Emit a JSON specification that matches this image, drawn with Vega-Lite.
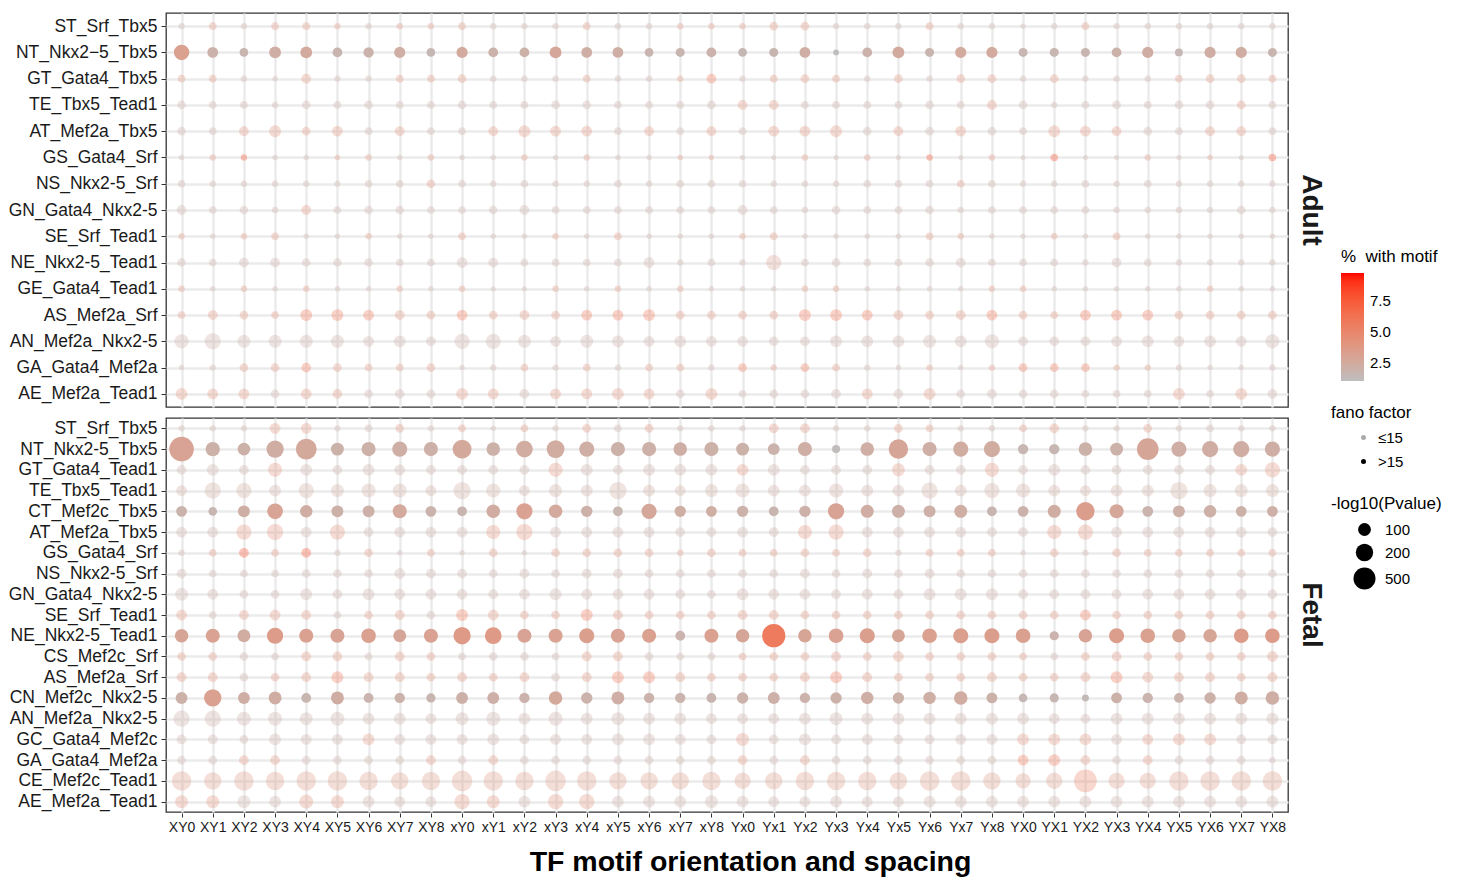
{
"$schema": "https://vega.github.io/schema/vega-lite/v6.json",
"background": "white",
"padding": {"left": 5, "top": 12, "right": 5, "bottom": 2},
"data": {"values": [
{"g":"A","r":0,"x":0,"c":2,"s":54,"f":0},{"g":"A","r":0,"x":1,"c":4,"s":59,"f":0},{"g":"A","r":0,"x":2,"c":2,"s":54,"f":0},{"g":"A","r":0,"x":3,"c":4,"s":59,"f":0},{"g":"A","r":0,"x":4,"c":4,"s":59,"f":0},{"g":"A","r":0,"x":5,"c":4,"s":54,"f":0},{"g":"A","r":0,"x":6,"c":2,"s":54,"f":0},{"g":"A","r":0,"x":7,"c":4,"s":54,"f":0},{"g":"A","r":0,"x":8,"c":4,"s":54,"f":0},{"g":"A","r":0,"x":9,"c":4,"s":59,"f":0},{"g":"A","r":0,"x":10,"c":2,"s":54,"f":0},{"g":"A","r":0,"x":11,"c":2,"s":54,"f":0},{"g":"A","r":0,"x":12,"c":2,"s":54,"f":0},{"g":"A","r":0,"x":13,"c":4,"s":59,"f":0},{"g":"A","r":0,"x":14,"c":2,"s":54,"f":0},{"g":"A","r":0,"x":15,"c":2,"s":54,"f":0},{"g":"A","r":0,"x":16,"c":4,"s":54,"f":0},{"g":"A","r":0,"x":17,"c":4,"s":54,"f":0},{"g":"A","r":0,"x":18,"c":4,"s":54,"f":0},{"g":"A","r":0,"x":19,"c":4,"s":64,"f":0},{"g":"A","r":0,"x":20,"c":4,"s":64,"f":0},{"g":"A","r":0,"x":21,"c":2,"s":54,"f":0},{"g":"A","r":0,"x":22,"c":2,"s":54,"f":0},{"g":"A","r":0,"x":23,"c":2,"s":54,"f":0},{"g":"A","r":0,"x":24,"c":4,"s":59,"f":0},{"g":"A","r":0,"x":25,"c":2,"s":54,"f":0},{"g":"A","r":0,"x":26,"c":2,"s":54,"f":0},{"g":"A","r":0,"x":27,"c":2,"s":51,"f":0},{"g":"A","r":0,"x":28,"c":2,"s":54,"f":0},{"g":"A","r":0,"x":29,"c":4,"s":59,"f":0},{"g":"A","r":0,"x":30,"c":2,"s":54,"f":0},{"g":"A","r":0,"x":31,"c":2,"s":54,"f":0},{"g":"A","r":0,"x":32,"c":2,"s":54,"f":0},{"g":"A","r":0,"x":33,"c":2,"s":54,"f":0},{"g":"A","r":0,"x":34,"c":2,"s":54,"f":0},{"g":"A","r":0,"x":35,"c":2,"s":54,"f":0},
{"g":"A","r":1,"x":0,"c":3.2,"s":146,"f":1},{"g":"A","r":1,"x":1,"c":1.9,"s":79,"f":1},{"g":"A","r":1,"x":2,"c":1.7,"s":64,"f":1},{"g":"A","r":1,"x":3,"c":2.2,"s":89,"f":1},{"g":"A","r":1,"x":4,"c":2.5,"s":89,"f":1},{"g":"A","r":1,"x":5,"c":1.7,"s":71,"f":1},{"g":"A","r":1,"x":6,"c":1.9,"s":75,"f":1},{"g":"A","r":1,"x":7,"c":2.2,"s":82,"f":1},{"g":"A","r":1,"x":8,"c":1.5,"s":64,"f":1},{"g":"A","r":1,"x":9,"c":2.5,"s":82,"f":1},{"g":"A","r":1,"x":10,"c":1.9,"s":71,"f":1},{"g":"A","r":1,"x":11,"c":2,"s":71,"f":1},{"g":"A","r":1,"x":12,"c":2.7,"s":89,"f":1},{"g":"A","r":1,"x":13,"c":2.2,"s":79,"f":1},{"g":"A","r":1,"x":14,"c":2.2,"s":79,"f":1},{"g":"A","r":1,"x":15,"c":1.7,"s":64,"f":1},{"g":"A","r":1,"x":16,"c":1.7,"s":66,"f":1},{"g":"A","r":1,"x":17,"c":1.9,"s":71,"f":1},{"g":"A","r":1,"x":18,"c":1.5,"s":64,"f":1},{"g":"A","r":1,"x":19,"c":1.7,"s":66,"f":1},{"g":"A","r":1,"x":20,"c":2.2,"s":79,"f":1},{"g":"A","r":1,"x":21,"c":1,"s":52,"f":1},{"g":"A","r":1,"x":22,"c":1.9,"s":71,"f":1},{"g":"A","r":1,"x":23,"c":2.5,"s":89,"f":1},{"g":"A","r":1,"x":24,"c":1.7,"s":66,"f":1},{"g":"A","r":1,"x":25,"c":2.5,"s":82,"f":1},{"g":"A","r":1,"x":26,"c":2.5,"s":82,"f":1},{"g":"A","r":1,"x":27,"c":1.6,"s":66,"f":1},{"g":"A","r":1,"x":28,"c":1.6,"s":66,"f":1},{"g":"A","r":1,"x":29,"c":1.7,"s":66,"f":1},{"g":"A","r":1,"x":30,"c":1.9,"s":71,"f":1},{"g":"A","r":1,"x":31,"c":2.3,"s":82,"f":1},{"g":"A","r":1,"x":32,"c":1.5,"s":60,"f":1},{"g":"A","r":1,"x":33,"c":2.3,"s":82,"f":1},{"g":"A","r":1,"x":34,"c":2.3,"s":82,"f":1},{"g":"A","r":1,"x":35,"c":1.7,"s":66,"f":1},
{"g":"A","r":2,"x":0,"c":4,"s":59,"f":0},{"g":"A","r":2,"x":1,"c":4,"s":59,"f":0},{"g":"A","r":2,"x":2,"c":2,"s":54,"f":0},{"g":"A","r":2,"x":3,"c":2,"s":51,"f":0},{"g":"A","r":2,"x":4,"c":4,"s":71,"f":0},{"g":"A","r":2,"x":5,"c":2,"s":54,"f":0},{"g":"A","r":2,"x":6,"c":2,"s":54,"f":0},{"g":"A","r":2,"x":7,"c":4,"s":59,"f":0},{"g":"A","r":2,"x":8,"c":4,"s":59,"f":0},{"g":"A","r":2,"x":9,"c":4,"s":64,"f":0},{"g":"A","r":2,"x":10,"c":2,"s":54,"f":0},{"g":"A","r":2,"x":11,"c":2,"s":54,"f":0},{"g":"A","r":2,"x":12,"c":2,"s":54,"f":0},{"g":"A","r":2,"x":13,"c":4,"s":59,"f":0},{"g":"A","r":2,"x":14,"c":2,"s":54,"f":0},{"g":"A","r":2,"x":15,"c":2,"s":54,"f":0},{"g":"A","r":2,"x":16,"c":4,"s":54,"f":0},{"g":"A","r":2,"x":17,"c":6,"s":71,"f":0},{"g":"A","r":2,"x":18,"c":2,"s":54,"f":0},{"g":"A","r":2,"x":19,"c":4,"s":59,"f":0},{"g":"A","r":2,"x":20,"c":4,"s":64,"f":0},{"g":"A","r":2,"x":21,"c":4,"s":59,"f":0},{"g":"A","r":2,"x":22,"c":2,"s":54,"f":0},{"g":"A","r":2,"x":23,"c":4,"s":64,"f":0},{"g":"A","r":2,"x":24,"c":2,"s":54,"f":0},{"g":"A","r":2,"x":25,"c":4,"s":64,"f":0},{"g":"A","r":2,"x":26,"c":4,"s":64,"f":0},{"g":"A","r":2,"x":27,"c":2,"s":54,"f":0},{"g":"A","r":2,"x":28,"c":4,"s":64,"f":0},{"g":"A","r":2,"x":29,"c":2,"s":54,"f":0},{"g":"A","r":2,"x":30,"c":2,"s":54,"f":0},{"g":"A","r":2,"x":31,"c":2,"s":54,"f":0},{"g":"A","r":2,"x":32,"c":4,"s":59,"f":0},{"g":"A","r":2,"x":33,"c":4,"s":64,"f":0},{"g":"A","r":2,"x":34,"c":4,"s":64,"f":0},{"g":"A","r":2,"x":35,"c":4,"s":59,"f":0},
{"g":"A","r":3,"x":0,"c":2,"s":64,"f":0},{"g":"A","r":3,"x":1,"c":2,"s":59,"f":0},{"g":"A","r":3,"x":2,"c":2,"s":59,"f":0},{"g":"A","r":3,"x":3,"c":2,"s":54,"f":0},{"g":"A","r":3,"x":4,"c":2,"s":64,"f":0},{"g":"A","r":3,"x":5,"c":2,"s":59,"f":0},{"g":"A","r":3,"x":6,"c":2,"s":64,"f":0},{"g":"A","r":3,"x":7,"c":2,"s":59,"f":0},{"g":"A","r":3,"x":8,"c":2,"s":59,"f":0},{"g":"A","r":3,"x":9,"c":2,"s":64,"f":0},{"g":"A","r":3,"x":10,"c":2,"s":59,"f":0},{"g":"A","r":3,"x":11,"c":2,"s":59,"f":0},{"g":"A","r":3,"x":12,"c":2,"s":64,"f":0},{"g":"A","r":3,"x":13,"c":2,"s":64,"f":0},{"g":"A","r":3,"x":14,"c":2,"s":59,"f":0},{"g":"A","r":3,"x":15,"c":2,"s":59,"f":0},{"g":"A","r":3,"x":16,"c":2,"s":59,"f":0},{"g":"A","r":3,"x":17,"c":2,"s":64,"f":0},{"g":"A","r":3,"x":18,"c":4,"s":71,"f":0},{"g":"A","r":3,"x":19,"c":4,"s":71,"f":0},{"g":"A","r":3,"x":20,"c":2,"s":59,"f":0},{"g":"A","r":3,"x":21,"c":2,"s":59,"f":0},{"g":"A","r":3,"x":22,"c":2,"s":59,"f":0},{"g":"A","r":3,"x":23,"c":2,"s":59,"f":0},{"g":"A","r":3,"x":24,"c":2,"s":64,"f":0},{"g":"A","r":3,"x":25,"c":2,"s":59,"f":0},{"g":"A","r":3,"x":26,"c":4,"s":71,"f":0},{"g":"A","r":3,"x":27,"c":2,"s":64,"f":0},{"g":"A","r":3,"x":28,"c":2,"s":54,"f":0},{"g":"A","r":3,"x":29,"c":2,"s":59,"f":0},{"g":"A","r":3,"x":30,"c":2,"s":64,"f":0},{"g":"A","r":3,"x":31,"c":2,"s":59,"f":0},{"g":"A","r":3,"x":32,"c":2,"s":64,"f":0},{"g":"A","r":3,"x":33,"c":2,"s":64,"f":0},{"g":"A","r":3,"x":34,"c":4,"s":64,"f":0},{"g":"A","r":3,"x":35,"c":2,"s":59,"f":0},
{"g":"A","r":4,"x":0,"c":2,"s":64,"f":0},{"g":"A","r":4,"x":1,"c":2,"s":59,"f":0},{"g":"A","r":4,"x":2,"c":4,"s":71,"f":0},{"g":"A","r":4,"x":3,"c":4,"s":89,"f":0},{"g":"A","r":4,"x":4,"c":4,"s":64,"f":0},{"g":"A","r":4,"x":5,"c":4,"s":79,"f":0},{"g":"A","r":4,"x":6,"c":2,"s":59,"f":0},{"g":"A","r":4,"x":7,"c":4,"s":71,"f":0},{"g":"A","r":4,"x":8,"c":2,"s":59,"f":0},{"g":"A","r":4,"x":9,"c":2,"s":59,"f":0},{"g":"A","r":4,"x":10,"c":4,"s":71,"f":0},{"g":"A","r":4,"x":11,"c":4,"s":89,"f":0},{"g":"A","r":4,"x":12,"c":4,"s":79,"f":0},{"g":"A","r":4,"x":13,"c":4,"s":79,"f":0},{"g":"A","r":4,"x":14,"c":2,"s":59,"f":0},{"g":"A","r":4,"x":15,"c":4,"s":71,"f":0},{"g":"A","r":4,"x":16,"c":2,"s":59,"f":0},{"g":"A","r":4,"x":17,"c":4,"s":71,"f":0},{"g":"A","r":4,"x":18,"c":2,"s":59,"f":0},{"g":"A","r":4,"x":19,"c":4,"s":79,"f":0},{"g":"A","r":4,"x":20,"c":4,"s":79,"f":0},{"g":"A","r":4,"x":21,"c":4,"s":89,"f":0},{"g":"A","r":4,"x":22,"c":2,"s":64,"f":0},{"g":"A","r":4,"x":23,"c":4,"s":71,"f":0},{"g":"A","r":4,"x":24,"c":2,"s":64,"f":0},{"g":"A","r":4,"x":25,"c":4,"s":79,"f":0},{"g":"A","r":4,"x":26,"c":2,"s":64,"f":0},{"g":"A","r":4,"x":27,"c":2,"s":59,"f":0},{"g":"A","r":4,"x":28,"c":4,"s":89,"f":0},{"g":"A","r":4,"x":29,"c":4,"s":79,"f":0},{"g":"A","r":4,"x":30,"c":4,"s":71,"f":0},{"g":"A","r":4,"x":31,"c":2,"s":64,"f":0},{"g":"A","r":4,"x":32,"c":2,"s":59,"f":0},{"g":"A","r":4,"x":33,"c":4,"s":71,"f":0},{"g":"A","r":4,"x":34,"c":4,"s":71,"f":0},{"g":"A","r":4,"x":35,"c":2,"s":59,"f":0},
{"g":"A","r":5,"x":0,"c":2,"s":51,"f":0},{"g":"A","r":5,"x":1,"c":4,"s":54,"f":0},{"g":"A","r":5,"x":2,"c":8,"s":54,"f":0},{"g":"A","r":5,"x":3,"c":2,"s":51,"f":0},{"g":"A","r":5,"x":4,"c":2,"s":51,"f":0},{"g":"A","r":5,"x":5,"c":4,"s":51,"f":0},{"g":"A","r":5,"x":6,"c":4,"s":54,"f":0},{"g":"A","r":5,"x":7,"c":2,"s":51,"f":0},{"g":"A","r":5,"x":8,"c":4,"s":54,"f":0},{"g":"A","r":5,"x":9,"c":2,"s":51,"f":0},{"g":"A","r":5,"x":10,"c":2,"s":51,"f":0},{"g":"A","r":5,"x":11,"c":4,"s":54,"f":0},{"g":"A","r":5,"x":12,"c":2,"s":51,"f":0},{"g":"A","r":5,"x":13,"c":4,"s":54,"f":0},{"g":"A","r":5,"x":14,"c":2,"s":51,"f":0},{"g":"A","r":5,"x":15,"c":2,"s":51,"f":0},{"g":"A","r":5,"x":16,"c":4,"s":51,"f":0},{"g":"A","r":5,"x":17,"c":4,"s":51,"f":0},{"g":"A","r":5,"x":18,"c":2,"s":51,"f":0},{"g":"A","r":5,"x":19,"c":2,"s":50,"f":0},{"g":"A","r":5,"x":20,"c":4,"s":54,"f":0},{"g":"A","r":5,"x":21,"c":2,"s":50,"f":0},{"g":"A","r":5,"x":22,"c":4,"s":54,"f":0},{"g":"A","r":5,"x":23,"c":2,"s":50,"f":0},{"g":"A","r":5,"x":24,"c":8,"s":54,"f":0},{"g":"A","r":5,"x":25,"c":2,"s":50,"f":0},{"g":"A","r":5,"x":26,"c":4,"s":54,"f":0},{"g":"A","r":5,"x":27,"c":2,"s":50,"f":0},{"g":"A","r":5,"x":28,"c":8,"s":59,"f":0},{"g":"A","r":5,"x":29,"c":2,"s":50,"f":0},{"g":"A","r":5,"x":30,"c":2,"s":50,"f":0},{"g":"A","r":5,"x":31,"c":4,"s":54,"f":0},{"g":"A","r":5,"x":32,"c":2,"s":50,"f":0},{"g":"A","r":5,"x":33,"c":4,"s":51,"f":0},{"g":"A","r":5,"x":34,"c":2,"s":50,"f":0},{"g":"A","r":5,"x":35,"c":8,"s":59,"f":0},
{"g":"A","r":6,"x":0,"c":2,"s":59,"f":0},{"g":"A","r":6,"x":1,"c":2,"s":54,"f":0},{"g":"A","r":6,"x":2,"c":2,"s":54,"f":0},{"g":"A","r":6,"x":3,"c":2,"s":54,"f":0},{"g":"A","r":6,"x":4,"c":2,"s":54,"f":0},{"g":"A","r":6,"x":5,"c":2,"s":54,"f":0},{"g":"A","r":6,"x":6,"c":2,"s":59,"f":0},{"g":"A","r":6,"x":7,"c":2,"s":59,"f":0},{"g":"A","r":6,"x":8,"c":4,"s":64,"f":0},{"g":"A","r":6,"x":9,"c":2,"s":59,"f":0},{"g":"A","r":6,"x":10,"c":2,"s":54,"f":0},{"g":"A","r":6,"x":11,"c":2,"s":59,"f":0},{"g":"A","r":6,"x":12,"c":2,"s":54,"f":0},{"g":"A","r":6,"x":13,"c":2,"s":54,"f":0},{"g":"A","r":6,"x":14,"c":2,"s":59,"f":0},{"g":"A","r":6,"x":15,"c":2,"s":54,"f":0},{"g":"A","r":6,"x":16,"c":2,"s":59,"f":0},{"g":"A","r":6,"x":17,"c":2,"s":59,"f":0},{"g":"A","r":6,"x":18,"c":2,"s":59,"f":0},{"g":"A","r":6,"x":19,"c":2,"s":54,"f":0},{"g":"A","r":6,"x":20,"c":2,"s":54,"f":0},{"g":"A","r":6,"x":21,"c":2,"s":54,"f":0},{"g":"A","r":6,"x":22,"c":2,"s":59,"f":0},{"g":"A","r":6,"x":23,"c":2,"s":59,"f":0},{"g":"A","r":6,"x":24,"c":2,"s":59,"f":0},{"g":"A","r":6,"x":25,"c":4,"s":59,"f":0},{"g":"A","r":6,"x":26,"c":2,"s":59,"f":0},{"g":"A","r":6,"x":27,"c":2,"s":54,"f":0},{"g":"A","r":6,"x":28,"c":2,"s":54,"f":0},{"g":"A","r":6,"x":29,"c":2,"s":59,"f":0},{"g":"A","r":6,"x":30,"c":2,"s":54,"f":0},{"g":"A","r":6,"x":31,"c":2,"s":59,"f":0},{"g":"A","r":6,"x":32,"c":2,"s":54,"f":0},{"g":"A","r":6,"x":33,"c":2,"s":54,"f":0},{"g":"A","r":6,"x":34,"c":2,"s":54,"f":0},{"g":"A","r":6,"x":35,"c":2,"s":54,"f":0},
{"g":"A","r":7,"x":0,"c":2,"s":71,"f":0},{"g":"A","r":7,"x":1,"c":2,"s":59,"f":0},{"g":"A","r":7,"x":2,"c":2,"s":64,"f":0},{"g":"A","r":7,"x":3,"c":2,"s":54,"f":0},{"g":"A","r":7,"x":4,"c":4,"s":71,"f":0},{"g":"A","r":7,"x":5,"c":2,"s":59,"f":0},{"g":"A","r":7,"x":6,"c":2,"s":64,"f":0},{"g":"A","r":7,"x":7,"c":2,"s":64,"f":0},{"g":"A","r":7,"x":8,"c":2,"s":59,"f":0},{"g":"A","r":7,"x":9,"c":2,"s":59,"f":0},{"g":"A","r":7,"x":10,"c":2,"s":64,"f":0},{"g":"A","r":7,"x":11,"c":2,"s":71,"f":0},{"g":"A","r":7,"x":12,"c":2,"s":59,"f":0},{"g":"A","r":7,"x":13,"c":2,"s":59,"f":0},{"g":"A","r":7,"x":14,"c":2,"s":59,"f":0},{"g":"A","r":7,"x":15,"c":2,"s":59,"f":0},{"g":"A","r":7,"x":16,"c":2,"s":59,"f":0},{"g":"A","r":7,"x":17,"c":2,"s":59,"f":0},{"g":"A","r":7,"x":18,"c":2,"s":71,"f":0},{"g":"A","r":7,"x":19,"c":2,"s":59,"f":0},{"g":"A","r":7,"x":20,"c":2,"s":54,"f":0},{"g":"A","r":7,"x":21,"c":2,"s":64,"f":0},{"g":"A","r":7,"x":22,"c":2,"s":59,"f":0},{"g":"A","r":7,"x":23,"c":2,"s":59,"f":0},{"g":"A","r":7,"x":24,"c":2,"s":64,"f":0},{"g":"A","r":7,"x":25,"c":2,"s":54,"f":0},{"g":"A","r":7,"x":26,"c":2,"s":59,"f":0},{"g":"A","r":7,"x":27,"c":2,"s":59,"f":0},{"g":"A","r":7,"x":28,"c":2,"s":59,"f":0},{"g":"A","r":7,"x":29,"c":2,"s":59,"f":0},{"g":"A","r":7,"x":30,"c":2,"s":54,"f":0},{"g":"A","r":7,"x":31,"c":2,"s":54,"f":0},{"g":"A","r":7,"x":32,"c":2,"s":54,"f":0},{"g":"A","r":7,"x":33,"c":2,"s":54,"f":0},{"g":"A","r":7,"x":34,"c":2,"s":64,"f":0},{"g":"A","r":7,"x":35,"c":2,"s":54,"f":0},
{"g":"A","r":8,"x":0,"c":4,"s":54,"f":0},{"g":"A","r":8,"x":1,"c":2,"s":51,"f":0},{"g":"A","r":8,"x":2,"c":4,"s":54,"f":0},{"g":"A","r":8,"x":3,"c":4,"s":59,"f":0},{"g":"A","r":8,"x":4,"c":2,"s":51,"f":0},{"g":"A","r":8,"x":5,"c":2,"s":51,"f":0},{"g":"A","r":8,"x":6,"c":4,"s":54,"f":0},{"g":"A","r":8,"x":7,"c":2,"s":51,"f":0},{"g":"A","r":8,"x":8,"c":2,"s":51,"f":0},{"g":"A","r":8,"x":9,"c":4,"s":59,"f":0},{"g":"A","r":8,"x":10,"c":2,"s":51,"f":0},{"g":"A","r":8,"x":11,"c":2,"s":51,"f":0},{"g":"A","r":8,"x":12,"c":4,"s":54,"f":0},{"g":"A","r":8,"x":13,"c":2,"s":51,"f":0},{"g":"A","r":8,"x":14,"c":4,"s":59,"f":0},{"g":"A","r":8,"x":15,"c":2,"s":51,"f":0},{"g":"A","r":8,"x":16,"c":2,"s":51,"f":0},{"g":"A","r":8,"x":17,"c":2,"s":51,"f":0},{"g":"A","r":8,"x":18,"c":4,"s":54,"f":0},{"g":"A","r":8,"x":19,"c":4,"s":59,"f":0},{"g":"A","r":8,"x":20,"c":2,"s":51,"f":0},{"g":"A","r":8,"x":21,"c":2,"s":51,"f":0},{"g":"A","r":8,"x":22,"c":2,"s":51,"f":0},{"g":"A","r":8,"x":23,"c":2,"s":51,"f":0},{"g":"A","r":8,"x":24,"c":4,"s":59,"f":0},{"g":"A","r":8,"x":25,"c":4,"s":54,"f":0},{"g":"A","r":8,"x":26,"c":2,"s":51,"f":0},{"g":"A","r":8,"x":27,"c":2,"s":51,"f":0},{"g":"A","r":8,"x":28,"c":4,"s":54,"f":0},{"g":"A","r":8,"x":29,"c":2,"s":51,"f":0},{"g":"A","r":8,"x":30,"c":4,"s":59,"f":0},{"g":"A","r":8,"x":31,"c":2,"s":51,"f":0},{"g":"A","r":8,"x":32,"c":2,"s":51,"f":0},{"g":"A","r":8,"x":33,"c":2,"s":51,"f":0},{"g":"A","r":8,"x":34,"c":2,"s":51,"f":0},{"g":"A","r":8,"x":35,"c":2,"s":51,"f":0},
{"g":"A","r":9,"x":0,"c":2,"s":64,"f":0},{"g":"A","r":9,"x":1,"c":2,"s":59,"f":0},{"g":"A","r":9,"x":2,"c":2,"s":71,"f":0},{"g":"A","r":9,"x":3,"c":2,"s":71,"f":0},{"g":"A","r":9,"x":4,"c":2,"s":64,"f":0},{"g":"A","r":9,"x":5,"c":2,"s":64,"f":0},{"g":"A","r":9,"x":6,"c":2,"s":64,"f":0},{"g":"A","r":9,"x":7,"c":2,"s":59,"f":0},{"g":"A","r":9,"x":8,"c":2,"s":59,"f":0},{"g":"A","r":9,"x":9,"c":2,"s":79,"f":0},{"g":"A","r":9,"x":10,"c":2,"s":71,"f":0},{"g":"A","r":9,"x":11,"c":2,"s":59,"f":0},{"g":"A","r":9,"x":12,"c":2,"s":59,"f":0},{"g":"A","r":9,"x":13,"c":2,"s":59,"f":0},{"g":"A","r":9,"x":14,"c":2,"s":59,"f":0},{"g":"A","r":9,"x":15,"c":2,"s":79,"f":0},{"g":"A","r":9,"x":16,"c":2,"s":54,"f":0},{"g":"A","r":9,"x":17,"c":2,"s":59,"f":0},{"g":"A","r":9,"x":18,"c":2,"s":54,"f":0},{"g":"A","r":9,"x":19,"c":3,"s":139,"f":0},{"g":"A","r":9,"x":20,"c":2,"s":59,"f":0},{"g":"A","r":9,"x":21,"c":2,"s":64,"f":0},{"g":"A","r":9,"x":22,"c":2,"s":59,"f":0},{"g":"A","r":9,"x":23,"c":2,"s":59,"f":0},{"g":"A","r":9,"x":24,"c":2,"s":64,"f":0},{"g":"A","r":9,"x":25,"c":2,"s":71,"f":0},{"g":"A","r":9,"x":26,"c":2,"s":59,"f":0},{"g":"A","r":9,"x":27,"c":2,"s":59,"f":0},{"g":"A","r":9,"x":28,"c":2,"s":59,"f":0},{"g":"A","r":9,"x":29,"c":2,"s":54,"f":0},{"g":"A","r":9,"x":30,"c":2,"s":71,"f":0},{"g":"A","r":9,"x":31,"c":2,"s":59,"f":0},{"g":"A","r":9,"x":32,"c":2,"s":54,"f":0},{"g":"A","r":9,"x":33,"c":2,"s":54,"f":0},{"g":"A","r":9,"x":34,"c":2,"s":54,"f":0},{"g":"A","r":9,"x":35,"c":2,"s":54,"f":0},
{"g":"A","r":10,"x":0,"c":4,"s":54,"f":0},{"g":"A","r":10,"x":1,"c":2,"s":51,"f":0},{"g":"A","r":10,"x":2,"c":4,"s":54,"f":0},{"g":"A","r":10,"x":3,"c":2,"s":51,"f":0},{"g":"A","r":10,"x":4,"c":4,"s":54,"f":0},{"g":"A","r":10,"x":5,"c":2,"s":51,"f":0},{"g":"A","r":10,"x":6,"c":2,"s":51,"f":0},{"g":"A","r":10,"x":7,"c":4,"s":54,"f":0},{"g":"A","r":10,"x":8,"c":2,"s":51,"f":0},{"g":"A","r":10,"x":9,"c":4,"s":54,"f":0},{"g":"A","r":10,"x":10,"c":2,"s":50,"f":0},{"g":"A","r":10,"x":11,"c":2,"s":50,"f":0},{"g":"A","r":10,"x":12,"c":4,"s":54,"f":0},{"g":"A","r":10,"x":13,"c":2,"s":51,"f":0},{"g":"A","r":10,"x":14,"c":4,"s":54,"f":0},{"g":"A","r":10,"x":15,"c":2,"s":51,"f":0},{"g":"A","r":10,"x":16,"c":4,"s":54,"f":0},{"g":"A","r":10,"x":17,"c":2,"s":51,"f":0},{"g":"A","r":10,"x":18,"c":2,"s":51,"f":0},{"g":"A","r":10,"x":19,"c":2,"s":51,"f":0},{"g":"A","r":10,"x":20,"c":4,"s":54,"f":0},{"g":"A","r":10,"x":21,"c":4,"s":54,"f":0},{"g":"A","r":10,"x":22,"c":2,"s":51,"f":0},{"g":"A","r":10,"x":23,"c":2,"s":51,"f":0},{"g":"A","r":10,"x":24,"c":2,"s":51,"f":0},{"g":"A","r":10,"x":25,"c":2,"s":51,"f":0},{"g":"A","r":10,"x":26,"c":4,"s":54,"f":0},{"g":"A","r":10,"x":27,"c":4,"s":54,"f":0},{"g":"A","r":10,"x":28,"c":2,"s":51,"f":0},{"g":"A","r":10,"x":29,"c":2,"s":51,"f":0},{"g":"A","r":10,"x":30,"c":2,"s":51,"f":0},{"g":"A","r":10,"x":31,"c":2,"s":51,"f":0},{"g":"A","r":10,"x":32,"c":2,"s":51,"f":0},{"g":"A","r":10,"x":33,"c":4,"s":54,"f":0},{"g":"A","r":10,"x":34,"c":2,"s":51,"f":0},{"g":"A","r":10,"x":35,"c":2,"s":51,"f":0},
{"g":"A","r":11,"x":0,"c":4,"s":59,"f":0},{"g":"A","r":11,"x":1,"c":4,"s":71,"f":0},{"g":"A","r":11,"x":2,"c":4,"s":64,"f":0},{"g":"A","r":11,"x":3,"c":4,"s":59,"f":0},{"g":"A","r":11,"x":4,"c":6,"s":89,"f":0},{"g":"A","r":11,"x":5,"c":6,"s":89,"f":0},{"g":"A","r":11,"x":6,"c":6,"s":79,"f":0},{"g":"A","r":11,"x":7,"c":4,"s":71,"f":0},{"g":"A","r":11,"x":8,"c":4,"s":64,"f":0},{"g":"A","r":11,"x":9,"c":6,"s":79,"f":0},{"g":"A","r":11,"x":10,"c":4,"s":64,"f":0},{"g":"A","r":11,"x":11,"c":4,"s":71,"f":0},{"g":"A","r":11,"x":12,"c":4,"s":64,"f":0},{"g":"A","r":11,"x":13,"c":6,"s":79,"f":0},{"g":"A","r":11,"x":14,"c":6,"s":79,"f":0},{"g":"A","r":11,"x":15,"c":6,"s":89,"f":0},{"g":"A","r":11,"x":16,"c":4,"s":64,"f":0},{"g":"A","r":11,"x":17,"c":4,"s":64,"f":0},{"g":"A","r":11,"x":18,"c":4,"s":64,"f":0},{"g":"A","r":11,"x":19,"c":4,"s":64,"f":0},{"g":"A","r":11,"x":20,"c":6,"s":89,"f":0},{"g":"A","r":11,"x":21,"c":6,"s":89,"f":0},{"g":"A","r":11,"x":22,"c":6,"s":79,"f":0},{"g":"A","r":11,"x":23,"c":4,"s":71,"f":0},{"g":"A","r":11,"x":24,"c":4,"s":64,"f":0},{"g":"A","r":11,"x":25,"c":4,"s":71,"f":0},{"g":"A","r":11,"x":26,"c":6,"s":79,"f":0},{"g":"A","r":11,"x":27,"c":4,"s":64,"f":0},{"g":"A","r":11,"x":28,"c":4,"s":59,"f":0},{"g":"A","r":11,"x":29,"c":6,"s":79,"f":0},{"g":"A","r":11,"x":30,"c":6,"s":79,"f":0},{"g":"A","r":11,"x":31,"c":6,"s":79,"f":0},{"g":"A","r":11,"x":32,"c":4,"s":64,"f":0},{"g":"A","r":11,"x":33,"c":4,"s":64,"f":0},{"g":"A","r":11,"x":34,"c":4,"s":64,"f":0},{"g":"A","r":11,"x":35,"c":4,"s":64,"f":0},
{"g":"A","r":12,"x":0,"c":2,"s":119,"f":0},{"g":"A","r":12,"x":1,"c":2,"s":164,"f":0},{"g":"A","r":12,"x":2,"c":2,"s":102,"f":0},{"g":"A","r":12,"x":3,"c":2,"s":102,"f":0},{"g":"A","r":12,"x":4,"c":2,"s":102,"f":0},{"g":"A","r":12,"x":5,"c":2,"s":102,"f":0},{"g":"A","r":12,"x":6,"c":2,"s":79,"f":0},{"g":"A","r":12,"x":7,"c":2,"s":89,"f":0},{"g":"A","r":12,"x":8,"c":2,"s":71,"f":0},{"g":"A","r":12,"x":9,"c":2,"s":139,"f":0},{"g":"A","r":12,"x":10,"c":2,"s":139,"f":0},{"g":"A","r":12,"x":11,"c":2,"s":102,"f":0},{"g":"A","r":12,"x":12,"c":2,"s":79,"f":0},{"g":"A","r":12,"x":13,"c":2,"s":102,"f":0},{"g":"A","r":12,"x":14,"c":2,"s":89,"f":0},{"g":"A","r":12,"x":15,"c":2,"s":79,"f":0},{"g":"A","r":12,"x":16,"c":2,"s":89,"f":0},{"g":"A","r":12,"x":17,"c":2,"s":79,"f":0},{"g":"A","r":12,"x":18,"c":2,"s":79,"f":0},{"g":"A","r":12,"x":19,"c":2,"s":71,"f":0},{"g":"A","r":12,"x":20,"c":2,"s":71,"f":0},{"g":"A","r":12,"x":21,"c":2,"s":89,"f":0},{"g":"A","r":12,"x":22,"c":2,"s":89,"f":0},{"g":"A","r":12,"x":23,"c":2,"s":89,"f":0},{"g":"A","r":12,"x":24,"c":2,"s":102,"f":0},{"g":"A","r":12,"x":25,"c":2,"s":89,"f":0},{"g":"A","r":12,"x":26,"c":2,"s":119,"f":0},{"g":"A","r":12,"x":27,"c":2,"s":71,"f":0},{"g":"A","r":12,"x":28,"c":2,"s":71,"f":0},{"g":"A","r":12,"x":29,"c":2,"s":71,"f":0},{"g":"A","r":12,"x":30,"c":2,"s":79,"f":0},{"g":"A","r":12,"x":31,"c":2,"s":89,"f":0},{"g":"A","r":12,"x":32,"c":2,"s":79,"f":0},{"g":"A","r":12,"x":33,"c":2,"s":89,"f":0},{"g":"A","r":12,"x":34,"c":2,"s":79,"f":0},{"g":"A","r":12,"x":35,"c":2,"s":119,"f":0},
{"g":"A","r":13,"x":0,"c":2,"s":51,"f":0},{"g":"A","r":13,"x":1,"c":2,"s":54,"f":0},{"g":"A","r":13,"x":2,"c":4,"s":64,"f":0},{"g":"A","r":13,"x":3,"c":4,"s":64,"f":0},{"g":"A","r":13,"x":4,"c":6,"s":71,"f":0},{"g":"A","r":13,"x":5,"c":4,"s":64,"f":0},{"g":"A","r":13,"x":6,"c":4,"s":59,"f":0},{"g":"A","r":13,"x":7,"c":4,"s":59,"f":0},{"g":"A","r":13,"x":8,"c":4,"s":64,"f":0},{"g":"A","r":13,"x":9,"c":2,"s":51,"f":0},{"g":"A","r":13,"x":10,"c":2,"s":54,"f":0},{"g":"A","r":13,"x":11,"c":4,"s":59,"f":0},{"g":"A","r":13,"x":12,"c":2,"s":54,"f":0},{"g":"A","r":13,"x":13,"c":4,"s":59,"f":0},{"g":"A","r":13,"x":14,"c":2,"s":54,"f":0},{"g":"A","r":13,"x":15,"c":4,"s":59,"f":0},{"g":"A","r":13,"x":16,"c":4,"s":59,"f":0},{"g":"A","r":13,"x":17,"c":2,"s":54,"f":0},{"g":"A","r":13,"x":18,"c":6,"s":64,"f":0},{"g":"A","r":13,"x":19,"c":4,"s":54,"f":0},{"g":"A","r":13,"x":20,"c":6,"s":64,"f":0},{"g":"A","r":13,"x":21,"c":4,"s":59,"f":0},{"g":"A","r":13,"x":22,"c":2,"s":54,"f":0},{"g":"A","r":13,"x":23,"c":2,"s":51,"f":0},{"g":"A","r":13,"x":24,"c":4,"s":54,"f":0},{"g":"A","r":13,"x":25,"c":2,"s":51,"f":0},{"g":"A","r":13,"x":26,"c":4,"s":54,"f":0},{"g":"A","r":13,"x":27,"c":6,"s":64,"f":0},{"g":"A","r":13,"x":28,"c":6,"s":64,"f":0},{"g":"A","r":13,"x":29,"c":6,"s":64,"f":0},{"g":"A","r":13,"x":30,"c":4,"s":54,"f":0},{"g":"A","r":13,"x":31,"c":4,"s":54,"f":0},{"g":"A","r":13,"x":32,"c":2,"s":54,"f":0},{"g":"A","r":13,"x":33,"c":2,"s":51,"f":0},{"g":"A","r":13,"x":34,"c":2,"s":51,"f":0},{"g":"A","r":13,"x":35,"c":2,"s":54,"f":0},
{"g":"A","r":14,"x":0,"c":4,"s":89,"f":0},{"g":"A","r":14,"x":1,"c":4,"s":79,"f":0},{"g":"A","r":14,"x":2,"c":4,"s":79,"f":0},{"g":"A","r":14,"x":3,"c":2,"s":64,"f":0},{"g":"A","r":14,"x":4,"c":4,"s":79,"f":0},{"g":"A","r":14,"x":5,"c":4,"s":71,"f":0},{"g":"A","r":14,"x":6,"c":2,"s":64,"f":0},{"g":"A","r":14,"x":7,"c":2,"s":71,"f":0},{"g":"A","r":14,"x":8,"c":2,"s":64,"f":0},{"g":"A","r":14,"x":9,"c":4,"s":89,"f":0},{"g":"A","r":14,"x":10,"c":4,"s":79,"f":0},{"g":"A","r":14,"x":11,"c":2,"s":71,"f":0},{"g":"A","r":14,"x":12,"c":4,"s":79,"f":0},{"g":"A","r":14,"x":13,"c":4,"s":79,"f":0},{"g":"A","r":14,"x":14,"c":4,"s":89,"f":0},{"g":"A","r":14,"x":15,"c":4,"s":79,"f":0},{"g":"A","r":14,"x":16,"c":2,"s":64,"f":0},{"g":"A","r":14,"x":17,"c":4,"s":89,"f":0},{"g":"A","r":14,"x":18,"c":2,"s":59,"f":0},{"g":"A","r":14,"x":19,"c":2,"s":64,"f":0},{"g":"A","r":14,"x":20,"c":2,"s":64,"f":0},{"g":"A","r":14,"x":21,"c":2,"s":71,"f":0},{"g":"A","r":14,"x":22,"c":4,"s":79,"f":0},{"g":"A","r":14,"x":23,"c":2,"s":71,"f":0},{"g":"A","r":14,"x":24,"c":4,"s":89,"f":0},{"g":"A","r":14,"x":25,"c":2,"s":64,"f":0},{"g":"A","r":14,"x":26,"c":2,"s":71,"f":0},{"g":"A","r":14,"x":27,"c":2,"s":64,"f":0},{"g":"A","r":14,"x":28,"c":2,"s":64,"f":0},{"g":"A","r":14,"x":29,"c":2,"s":59,"f":0},{"g":"A","r":14,"x":30,"c":2,"s":59,"f":0},{"g":"A","r":14,"x":31,"c":2,"s":59,"f":0},{"g":"A","r":14,"x":32,"c":4,"s":89,"f":0},{"g":"A","r":14,"x":33,"c":2,"s":59,"f":0},{"g":"A","r":14,"x":34,"c":4,"s":89,"f":0},{"g":"A","r":14,"x":35,"c":2,"s":71,"f":0},
{"g":"F","r":15,"x":0,"c":2,"s":54,"f":0},{"g":"F","r":15,"x":1,"c":2,"s":54,"f":0},{"g":"F","r":15,"x":2,"c":2,"s":54,"f":0},{"g":"F","r":15,"x":3,"c":4,"s":79,"f":0},{"g":"F","r":15,"x":4,"c":4,"s":79,"f":0},{"g":"F","r":15,"x":5,"c":2,"s":54,"f":0},{"g":"F","r":15,"x":6,"c":2,"s":59,"f":0},{"g":"F","r":15,"x":7,"c":4,"s":64,"f":0},{"g":"F","r":15,"x":8,"c":2,"s":54,"f":0},{"g":"F","r":15,"x":9,"c":4,"s":59,"f":0},{"g":"F","r":15,"x":10,"c":2,"s":51,"f":0},{"g":"F","r":15,"x":11,"c":4,"s":59,"f":0},{"g":"F","r":15,"x":12,"c":2,"s":54,"f":0},{"g":"F","r":15,"x":13,"c":4,"s":64,"f":0},{"g":"F","r":15,"x":14,"c":2,"s":59,"f":0},{"g":"F","r":15,"x":15,"c":4,"s":64,"f":0},{"g":"F","r":15,"x":16,"c":2,"s":54,"f":0},{"g":"F","r":15,"x":17,"c":2,"s":54,"f":0},{"g":"F","r":15,"x":18,"c":2,"s":54,"f":0},{"g":"F","r":15,"x":19,"c":4,"s":71,"f":0},{"g":"F","r":15,"x":20,"c":4,"s":71,"f":0},{"g":"F","r":15,"x":21,"c":2,"s":54,"f":0},{"g":"F","r":15,"x":22,"c":2,"s":54,"f":0},{"g":"F","r":15,"x":23,"c":4,"s":64,"f":0},{"g":"F","r":15,"x":24,"c":4,"s":59,"f":0},{"g":"F","r":15,"x":25,"c":2,"s":54,"f":0},{"g":"F","r":15,"x":26,"c":2,"s":54,"f":0},{"g":"F","r":15,"x":27,"c":4,"s":59,"f":0},{"g":"F","r":15,"x":28,"c":4,"s":71,"f":0},{"g":"F","r":15,"x":29,"c":2,"s":54,"f":0},{"g":"F","r":15,"x":30,"c":2,"s":54,"f":0},{"g":"F","r":15,"x":31,"c":4,"s":64,"f":0},{"g":"F","r":15,"x":32,"c":2,"s":54,"f":0},{"g":"F","r":15,"x":33,"c":2,"s":59,"f":0},{"g":"F","r":15,"x":34,"c":2,"s":54,"f":0},{"g":"F","r":15,"x":35,"c":2,"s":54,"f":0},
{"g":"F","r":16,"x":0,"c":3,"s":906,"f":1},{"g":"F","r":16,"x":1,"c":2,"s":124,"f":1},{"g":"F","r":16,"x":2,"c":2,"s":98,"f":1},{"g":"F","r":16,"x":3,"c":2.3,"s":198,"f":1},{"g":"F","r":16,"x":4,"c":2.6,"s":392,"f":1},{"g":"F","r":16,"x":5,"c":2,"s":102,"f":1},{"g":"F","r":16,"x":6,"c":2.1,"s":119,"f":1},{"g":"F","r":16,"x":7,"c":2.2,"s":139,"f":1},{"g":"F","r":16,"x":8,"c":2.1,"s":119,"f":1},{"g":"F","r":16,"x":9,"c":2.6,"s":265,"f":1},{"g":"F","r":16,"x":10,"c":2,"s":110,"f":1},{"g":"F","r":16,"x":11,"c":2.4,"s":180,"f":1},{"g":"F","r":16,"x":12,"c":2.4,"s":217,"f":1},{"g":"F","r":16,"x":13,"c":2.2,"s":139,"f":1},{"g":"F","r":16,"x":14,"c":2,"s":119,"f":1},{"g":"F","r":16,"x":15,"c":2.1,"s":119,"f":1},{"g":"F","r":16,"x":16,"c":2.2,"s":110,"f":1},{"g":"F","r":16,"x":17,"c":2,"s":119,"f":1},{"g":"F","r":16,"x":18,"c":2,"s":102,"f":1},{"g":"F","r":16,"x":19,"c":1.9,"s":89,"f":1},{"g":"F","r":16,"x":20,"c":2.2,"s":119,"f":1},{"g":"F","r":16,"x":21,"c":1.1,"s":61,"f":1},{"g":"F","r":16,"x":22,"c":2.2,"s":110,"f":1},{"g":"F","r":16,"x":23,"c":2.8,"s":295,"f":1},{"g":"F","r":16,"x":24,"c":2.2,"s":119,"f":1},{"g":"F","r":16,"x":25,"c":2.4,"s":139,"f":1},{"g":"F","r":16,"x":26,"c":2.4,"s":164,"f":1},{"g":"F","r":16,"x":27,"c":1.6,"s":75,"f":1},{"g":"F","r":16,"x":28,"c":1.6,"s":75,"f":1},{"g":"F","r":16,"x":29,"c":2,"s":110,"f":1},{"g":"F","r":16,"x":30,"c":2,"s":102,"f":1},{"g":"F","r":16,"x":31,"c":2.8,"s":460,"f":1},{"g":"F","r":16,"x":32,"c":2.2,"s":139,"f":1},{"g":"F","r":16,"x":33,"c":2.3,"s":164,"f":1},{"g":"F","r":16,"x":34,"c":2.3,"s":164,"f":1},{"g":"F","r":16,"x":35,"c":2.2,"s":139,"f":1},
{"g":"F","r":17,"x":0,"c":2,"s":71,"f":0},{"g":"F","r":17,"x":1,"c":2,"s":89,"f":0},{"g":"F","r":17,"x":2,"c":2,"s":71,"f":0},{"g":"F","r":17,"x":3,"c":4,"s":119,"f":0},{"g":"F","r":17,"x":4,"c":2,"s":89,"f":0},{"g":"F","r":17,"x":5,"c":2,"s":71,"f":0},{"g":"F","r":17,"x":6,"c":2,"s":89,"f":0},{"g":"F","r":17,"x":7,"c":2,"s":79,"f":0},{"g":"F","r":17,"x":8,"c":2,"s":71,"f":0},{"g":"F","r":17,"x":9,"c":2,"s":71,"f":0},{"g":"F","r":17,"x":10,"c":2,"s":71,"f":0},{"g":"F","r":17,"x":11,"c":2,"s":71,"f":0},{"g":"F","r":17,"x":12,"c":4,"s":119,"f":0},{"g":"F","r":17,"x":13,"c":2,"s":89,"f":0},{"g":"F","r":17,"x":14,"c":2,"s":71,"f":0},{"g":"F","r":17,"x":15,"c":2,"s":89,"f":0},{"g":"F","r":17,"x":16,"c":2,"s":89,"f":0},{"g":"F","r":17,"x":17,"c":2,"s":89,"f":0},{"g":"F","r":17,"x":18,"c":4,"s":89,"f":0},{"g":"F","r":17,"x":19,"c":2,"s":89,"f":0},{"g":"F","r":17,"x":20,"c":2,"s":71,"f":0},{"g":"F","r":17,"x":21,"c":2,"s":71,"f":0},{"g":"F","r":17,"x":22,"c":2,"s":71,"f":0},{"g":"F","r":17,"x":23,"c":4,"s":102,"f":0},{"g":"F","r":17,"x":24,"c":2,"s":71,"f":0},{"g":"F","r":17,"x":25,"c":2,"s":71,"f":0},{"g":"F","r":17,"x":26,"c":4,"s":119,"f":0},{"g":"F","r":17,"x":27,"c":2,"s":71,"f":0},{"g":"F","r":17,"x":28,"c":2,"s":89,"f":0},{"g":"F","r":17,"x":29,"c":2,"s":71,"f":0},{"g":"F","r":17,"x":30,"c":2,"s":71,"f":0},{"g":"F","r":17,"x":31,"c":2,"s":71,"f":0},{"g":"F","r":17,"x":32,"c":2,"s":71,"f":0},{"g":"F","r":17,"x":33,"c":2,"s":71,"f":0},{"g":"F","r":17,"x":34,"c":4,"s":89,"f":0},{"g":"F","r":17,"x":35,"c":4,"s":139,"f":0},
{"g":"F","r":18,"x":0,"c":2.3,"s":79,"f":0},{"g":"F","r":18,"x":1,"c":2.3,"s":164,"f":0},{"g":"F","r":18,"x":2,"c":2.3,"s":139,"f":0},{"g":"F","r":18,"x":3,"c":2.3,"s":89,"f":0},{"g":"F","r":18,"x":4,"c":2.3,"s":139,"f":0},{"g":"F","r":18,"x":5,"c":2.3,"s":102,"f":0},{"g":"F","r":18,"x":6,"c":2.3,"s":119,"f":0},{"g":"F","r":18,"x":7,"c":2.3,"s":119,"f":0},{"g":"F","r":18,"x":8,"c":2.3,"s":79,"f":0},{"g":"F","r":18,"x":9,"c":2.3,"s":198,"f":0},{"g":"F","r":18,"x":10,"c":2.3,"s":119,"f":0},{"g":"F","r":18,"x":11,"c":2.3,"s":79,"f":0},{"g":"F","r":18,"x":12,"c":2.3,"s":102,"f":0},{"g":"F","r":18,"x":13,"c":2.3,"s":89,"f":0},{"g":"F","r":18,"x":14,"c":2.3,"s":198,"f":0},{"g":"F","r":18,"x":15,"c":2.3,"s":89,"f":0},{"g":"F","r":18,"x":16,"c":2.3,"s":79,"f":0},{"g":"F","r":18,"x":17,"c":2.3,"s":102,"f":0},{"g":"F","r":18,"x":18,"c":2.3,"s":119,"f":0},{"g":"F","r":18,"x":19,"c":2.3,"s":89,"f":0},{"g":"F","r":18,"x":20,"c":2.3,"s":89,"f":0},{"g":"F","r":18,"x":21,"c":2.3,"s":119,"f":0},{"g":"F","r":18,"x":22,"c":2.3,"s":89,"f":0},{"g":"F","r":18,"x":23,"c":2.3,"s":89,"f":0},{"g":"F","r":18,"x":24,"c":2.3,"s":164,"f":0},{"g":"F","r":18,"x":25,"c":2.3,"s":89,"f":0},{"g":"F","r":18,"x":26,"c":2.3,"s":139,"f":0},{"g":"F","r":18,"x":27,"c":2.3,"s":119,"f":0},{"g":"F","r":18,"x":28,"c":2.3,"s":89,"f":0},{"g":"F","r":18,"x":29,"c":2.3,"s":79,"f":0},{"g":"F","r":18,"x":30,"c":2.3,"s":89,"f":0},{"g":"F","r":18,"x":31,"c":2.3,"s":89,"f":0},{"g":"F","r":18,"x":32,"c":2.3,"s":198,"f":0},{"g":"F","r":18,"x":33,"c":2.3,"s":102,"f":0},{"g":"F","r":18,"x":34,"c":2.3,"s":102,"f":0},{"g":"F","r":18,"x":35,"c":2.3,"s":102,"f":0},
{"g":"F","r":19,"x":0,"c":1.85,"s":79,"f":1},{"g":"F","r":19,"x":1,"c":1.65,"s":64,"f":1},{"g":"F","r":19,"x":2,"c":2.2,"s":89,"f":1},{"g":"F","r":19,"x":3,"c":2.95,"s":151,"f":1},{"g":"F","r":19,"x":4,"c":2.3,"s":95,"f":1},{"g":"F","r":19,"x":5,"c":2,"s":89,"f":1},{"g":"F","r":19,"x":6,"c":2.1,"s":89,"f":1},{"g":"F","r":19,"x":7,"c":2.55,"s":119,"f":1},{"g":"F","r":19,"x":8,"c":1.85,"s":79,"f":1},{"g":"F","r":19,"x":9,"c":1.7,"s":71,"f":1},{"g":"F","r":19,"x":10,"c":2.35,"s":110,"f":1},{"g":"F","r":19,"x":11,"c":3.1,"s":164,"f":1},{"g":"F","r":19,"x":12,"c":2.55,"s":110,"f":1},{"g":"F","r":19,"x":13,"c":2.05,"s":84,"f":1},{"g":"F","r":19,"x":14,"c":1.65,"s":71,"f":1},{"g":"F","r":19,"x":15,"c":2.7,"s":139,"f":1},{"g":"F","r":19,"x":16,"c":2.25,"s":84,"f":1},{"g":"F","r":19,"x":17,"c":2.25,"s":79,"f":1},{"g":"F","r":19,"x":18,"c":1.9,"s":84,"f":1},{"g":"F","r":19,"x":19,"c":1.7,"s":71,"f":1},{"g":"F","r":19,"x":20,"c":2.05,"s":84,"f":1},{"g":"F","r":19,"x":21,"c":3,"s":164,"f":1},{"g":"F","r":19,"x":22,"c":2.3,"s":102,"f":1},{"g":"F","r":19,"x":23,"c":2.05,"s":102,"f":1},{"g":"F","r":19,"x":24,"c":2.05,"s":89,"f":1},{"g":"F","r":19,"x":25,"c":2.25,"s":102,"f":1},{"g":"F","r":19,"x":26,"c":1.7,"s":71,"f":1},{"g":"F","r":19,"x":27,"c":1.9,"s":79,"f":1},{"g":"F","r":19,"x":28,"c":2.3,"s":102,"f":1},{"g":"F","r":19,"x":29,"c":3.35,"s":240,"f":1},{"g":"F","r":19,"x":30,"c":2.7,"s":119,"f":1},{"g":"F","r":19,"x":31,"c":1.8,"s":79,"f":1},{"g":"F","r":19,"x":32,"c":2.05,"s":89,"f":1},{"g":"F","r":19,"x":33,"c":2.1,"s":95,"f":1},{"g":"F","r":19,"x":34,"c":2,"s":79,"f":1},{"g":"F","r":19,"x":35,"c":2.05,"s":79,"f":1},
{"g":"F","r":20,"x":0,"c":2,"s":79,"f":0},{"g":"F","r":20,"x":1,"c":2,"s":79,"f":0},{"g":"F","r":20,"x":2,"c":4,"s":139,"f":0},{"g":"F","r":20,"x":3,"c":4,"s":164,"f":0},{"g":"F","r":20,"x":4,"c":2,"s":79,"f":0},{"g":"F","r":20,"x":5,"c":4,"s":139,"f":0},{"g":"F","r":20,"x":6,"c":2,"s":71,"f":0},{"g":"F","r":20,"x":7,"c":2,"s":79,"f":0},{"g":"F","r":20,"x":8,"c":2,"s":79,"f":0},{"g":"F","r":20,"x":9,"c":2,"s":79,"f":0},{"g":"F","r":20,"x":10,"c":4,"s":119,"f":0},{"g":"F","r":20,"x":11,"c":4,"s":164,"f":0},{"g":"F","r":20,"x":12,"c":2,"s":79,"f":0},{"g":"F","r":20,"x":13,"c":2,"s":79,"f":0},{"g":"F","r":20,"x":14,"c":2,"s":79,"f":0},{"g":"F","r":20,"x":15,"c":2,"s":79,"f":0},{"g":"F","r":20,"x":16,"c":2,"s":71,"f":0},{"g":"F","r":20,"x":17,"c":2,"s":71,"f":0},{"g":"F","r":20,"x":18,"c":2,"s":79,"f":0},{"g":"F","r":20,"x":19,"c":2,"s":71,"f":0},{"g":"F","r":20,"x":20,"c":4,"s":119,"f":0},{"g":"F","r":20,"x":21,"c":4,"s":139,"f":0},{"g":"F","r":20,"x":22,"c":2,"s":79,"f":0},{"g":"F","r":20,"x":23,"c":2,"s":79,"f":0},{"g":"F","r":20,"x":24,"c":2,"s":79,"f":0},{"g":"F","r":20,"x":25,"c":2,"s":79,"f":0},{"g":"F","r":20,"x":26,"c":2,"s":71,"f":0},{"g":"F","r":20,"x":27,"c":2,"s":71,"f":0},{"g":"F","r":20,"x":28,"c":4,"s":119,"f":0},{"g":"F","r":20,"x":29,"c":4,"s":139,"f":0},{"g":"F","r":20,"x":30,"c":2,"s":79,"f":0},{"g":"F","r":20,"x":31,"c":2,"s":79,"f":0},{"g":"F","r":20,"x":32,"c":2,"s":79,"f":0},{"g":"F","r":20,"x":33,"c":2,"s":79,"f":0},{"g":"F","r":20,"x":34,"c":2,"s":79,"f":0},{"g":"F","r":20,"x":35,"c":2,"s":71,"f":0},
{"g":"F","r":21,"x":0,"c":2,"s":54,"f":0},{"g":"F","r":21,"x":1,"c":4,"s":59,"f":0},{"g":"F","r":21,"x":2,"c":8,"s":71,"f":0},{"g":"F","r":21,"x":3,"c":4,"s":59,"f":0},{"g":"F","r":21,"x":4,"c":8,"s":71,"f":0},{"g":"F","r":21,"x":5,"c":2,"s":54,"f":0},{"g":"F","r":21,"x":6,"c":4,"s":64,"f":0},{"g":"F","r":21,"x":7,"c":2,"s":51,"f":0},{"g":"F","r":21,"x":8,"c":4,"s":59,"f":0},{"g":"F","r":21,"x":9,"c":2,"s":51,"f":0},{"g":"F","r":21,"x":10,"c":4,"s":64,"f":0},{"g":"F","r":21,"x":11,"c":2,"s":51,"f":0},{"g":"F","r":21,"x":12,"c":4,"s":64,"f":0},{"g":"F","r":21,"x":13,"c":4,"s":64,"f":0},{"g":"F","r":21,"x":14,"c":4,"s":64,"f":0},{"g":"F","r":21,"x":15,"c":4,"s":64,"f":0},{"g":"F","r":21,"x":16,"c":4,"s":54,"f":0},{"g":"F","r":21,"x":17,"c":4,"s":64,"f":0},{"g":"F","r":21,"x":18,"c":4,"s":59,"f":0},{"g":"F","r":21,"x":19,"c":4,"s":59,"f":0},{"g":"F","r":21,"x":20,"c":4,"s":64,"f":0},{"g":"F","r":21,"x":21,"c":4,"s":59,"f":0},{"g":"F","r":21,"x":22,"c":4,"s":64,"f":0},{"g":"F","r":21,"x":23,"c":2,"s":54,"f":0},{"g":"F","r":21,"x":24,"c":4,"s":59,"f":0},{"g":"F","r":21,"x":25,"c":4,"s":59,"f":0},{"g":"F","r":21,"x":26,"c":4,"s":59,"f":0},{"g":"F","r":21,"x":27,"c":2,"s":51,"f":0},{"g":"F","r":21,"x":28,"c":4,"s":64,"f":0},{"g":"F","r":21,"x":29,"c":2,"s":54,"f":0},{"g":"F","r":21,"x":30,"c":4,"s":64,"f":0},{"g":"F","r":21,"x":31,"c":4,"s":59,"f":0},{"g":"F","r":21,"x":32,"c":4,"s":59,"f":0},{"g":"F","r":21,"x":33,"c":4,"s":59,"f":0},{"g":"F","r":21,"x":34,"c":4,"s":59,"f":0},{"g":"F","r":21,"x":35,"c":4,"s":59,"f":0},
{"g":"F","r":22,"x":0,"c":2,"s":71,"f":0},{"g":"F","r":22,"x":1,"c":2,"s":59,"f":0},{"g":"F","r":22,"x":2,"c":2,"s":59,"f":0},{"g":"F","r":22,"x":3,"c":2,"s":59,"f":0},{"g":"F","r":22,"x":4,"c":2,"s":64,"f":0},{"g":"F","r":22,"x":5,"c":2,"s":64,"f":0},{"g":"F","r":22,"x":6,"c":2,"s":64,"f":0},{"g":"F","r":22,"x":7,"c":2,"s":79,"f":0},{"g":"F","r":22,"x":8,"c":2,"s":71,"f":0},{"g":"F","r":22,"x":9,"c":2,"s":71,"f":0},{"g":"F","r":22,"x":10,"c":2,"s":64,"f":0},{"g":"F","r":22,"x":11,"c":2,"s":71,"f":0},{"g":"F","r":22,"x":12,"c":2,"s":64,"f":0},{"g":"F","r":22,"x":13,"c":2,"s":71,"f":0},{"g":"F","r":22,"x":14,"c":2,"s":71,"f":0},{"g":"F","r":22,"x":15,"c":2,"s":64,"f":0},{"g":"F","r":22,"x":16,"c":2,"s":64,"f":0},{"g":"F","r":22,"x":17,"c":2,"s":64,"f":0},{"g":"F","r":22,"x":18,"c":2,"s":64,"f":0},{"g":"F","r":22,"x":19,"c":2,"s":64,"f":0},{"g":"F","r":22,"x":20,"c":2,"s":71,"f":0},{"g":"F","r":22,"x":21,"c":2,"s":64,"f":0},{"g":"F","r":22,"x":22,"c":2,"s":71,"f":0},{"g":"F","r":22,"x":23,"c":2,"s":64,"f":0},{"g":"F","r":22,"x":24,"c":2,"s":71,"f":0},{"g":"F","r":22,"x":25,"c":2,"s":64,"f":0},{"g":"F","r":22,"x":26,"c":2,"s":64,"f":0},{"g":"F","r":22,"x":27,"c":2,"s":64,"f":0},{"g":"F","r":22,"x":28,"c":2,"s":64,"f":0},{"g":"F","r":22,"x":29,"c":2,"s":64,"f":0},{"g":"F","r":22,"x":30,"c":2,"s":64,"f":0},{"g":"F","r":22,"x":31,"c":2,"s":64,"f":0},{"g":"F","r":22,"x":32,"c":2,"s":64,"f":0},{"g":"F","r":22,"x":33,"c":2,"s":64,"f":0},{"g":"F","r":22,"x":34,"c":2,"s":64,"f":0},{"g":"F","r":22,"x":35,"c":2,"s":64,"f":0},
{"g":"F","r":23,"x":0,"c":2,"s":102,"f":0},{"g":"F","r":23,"x":1,"c":2,"s":79,"f":0},{"g":"F","r":23,"x":2,"c":2,"s":64,"f":0},{"g":"F","r":23,"x":3,"c":2,"s":64,"f":0},{"g":"F","r":23,"x":4,"c":2,"s":89,"f":0},{"g":"F","r":23,"x":5,"c":2,"s":71,"f":0},{"g":"F","r":23,"x":6,"c":2,"s":89,"f":0},{"g":"F","r":23,"x":7,"c":2,"s":79,"f":0},{"g":"F","r":23,"x":8,"c":2,"s":79,"f":0},{"g":"F","r":23,"x":9,"c":2,"s":79,"f":0},{"g":"F","r":23,"x":10,"c":2,"s":71,"f":0},{"g":"F","r":23,"x":11,"c":2,"s":79,"f":0},{"g":"F","r":23,"x":12,"c":2,"s":89,"f":0},{"g":"F","r":23,"x":13,"c":2,"s":79,"f":0},{"g":"F","r":23,"x":14,"c":2,"s":79,"f":0},{"g":"F","r":23,"x":15,"c":2,"s":79,"f":0},{"g":"F","r":23,"x":16,"c":2,"s":71,"f":0},{"g":"F","r":23,"x":17,"c":2,"s":64,"f":0},{"g":"F","r":23,"x":18,"c":2,"s":89,"f":0},{"g":"F","r":23,"x":19,"c":2,"s":79,"f":0},{"g":"F","r":23,"x":20,"c":2,"s":79,"f":0},{"g":"F","r":23,"x":21,"c":2,"s":71,"f":0},{"g":"F","r":23,"x":22,"c":2,"s":79,"f":0},{"g":"F","r":23,"x":23,"c":2,"s":71,"f":0},{"g":"F","r":23,"x":24,"c":2,"s":89,"f":0},{"g":"F","r":23,"x":25,"c":2,"s":89,"f":0},{"g":"F","r":23,"x":26,"c":2,"s":89,"f":0},{"g":"F","r":23,"x":27,"c":2,"s":71,"f":0},{"g":"F","r":23,"x":28,"c":2,"s":71,"f":0},{"g":"F","r":23,"x":29,"c":2,"s":71,"f":0},{"g":"F","r":23,"x":30,"c":2,"s":71,"f":0},{"g":"F","r":23,"x":31,"c":2,"s":79,"f":0},{"g":"F","r":23,"x":32,"c":2,"s":79,"f":0},{"g":"F","r":23,"x":33,"c":2,"s":79,"f":0},{"g":"F","r":23,"x":34,"c":2,"s":79,"f":0},{"g":"F","r":23,"x":35,"c":2,"s":71,"f":0},
{"g":"F","r":24,"x":0,"c":4,"s":79,"f":0},{"g":"F","r":24,"x":1,"c":2,"s":59,"f":0},{"g":"F","r":24,"x":2,"c":4,"s":71,"f":0},{"g":"F","r":24,"x":3,"c":4,"s":79,"f":0},{"g":"F","r":24,"x":4,"c":4,"s":71,"f":0},{"g":"F","r":24,"x":5,"c":2,"s":59,"f":0},{"g":"F","r":24,"x":6,"c":4,"s":64,"f":0},{"g":"F","r":24,"x":7,"c":4,"s":71,"f":0},{"g":"F","r":24,"x":8,"c":2,"s":64,"f":0},{"g":"F","r":24,"x":9,"c":6,"s":89,"f":0},{"g":"F","r":24,"x":10,"c":4,"s":79,"f":0},{"g":"F","r":24,"x":11,"c":4,"s":64,"f":0},{"g":"F","r":24,"x":12,"c":4,"s":64,"f":0},{"g":"F","r":24,"x":13,"c":6,"s":89,"f":0},{"g":"F","r":24,"x":14,"c":4,"s":71,"f":0},{"g":"F","r":24,"x":15,"c":4,"s":64,"f":0},{"g":"F","r":24,"x":16,"c":4,"s":64,"f":0},{"g":"F","r":24,"x":17,"c":4,"s":64,"f":0},{"g":"F","r":24,"x":18,"c":4,"s":71,"f":0},{"g":"F","r":24,"x":19,"c":4,"s":71,"f":0},{"g":"F","r":24,"x":20,"c":4,"s":64,"f":0},{"g":"F","r":24,"x":21,"c":4,"s":64,"f":0},{"g":"F","r":24,"x":22,"c":4,"s":64,"f":0},{"g":"F","r":24,"x":23,"c":4,"s":64,"f":0},{"g":"F","r":24,"x":24,"c":4,"s":64,"f":0},{"g":"F","r":24,"x":25,"c":4,"s":64,"f":0},{"g":"F","r":24,"x":26,"c":4,"s":64,"f":0},{"g":"F","r":24,"x":27,"c":4,"s":64,"f":0},{"g":"F","r":24,"x":28,"c":4,"s":64,"f":0},{"g":"F","r":24,"x":29,"c":6,"s":79,"f":0},{"g":"F","r":24,"x":30,"c":4,"s":64,"f":0},{"g":"F","r":24,"x":31,"c":4,"s":64,"f":0},{"g":"F","r":24,"x":32,"c":4,"s":64,"f":0},{"g":"F","r":24,"x":33,"c":4,"s":64,"f":0},{"g":"F","r":24,"x":34,"c":4,"s":64,"f":0},{"g":"F","r":24,"x":35,"c":4,"s":64,"f":0},
{"g":"F","r":25,"x":0,"c":2.9,"s":110,"f":1},{"g":"F","r":25,"x":1,"c":3.1,"s":119,"f":1},{"g":"F","r":25,"x":2,"c":2.4,"s":102,"f":1},{"g":"F","r":25,"x":3,"c":3.5,"s":164,"f":1},{"g":"F","r":25,"x":4,"c":3.2,"s":119,"f":1},{"g":"F","r":25,"x":5,"c":3,"s":119,"f":1},{"g":"F","r":25,"x":6,"c":3.2,"s":128,"f":1},{"g":"F","r":25,"x":7,"c":2.8,"s":102,"f":1},{"g":"F","r":25,"x":8,"c":3.1,"s":119,"f":1},{"g":"F","r":25,"x":9,"c":3.7,"s":198,"f":1},{"g":"F","r":25,"x":10,"c":3.7,"s":180,"f":1},{"g":"F","r":25,"x":11,"c":3,"s":119,"f":1},{"g":"F","r":25,"x":12,"c":3.1,"s":119,"f":1},{"g":"F","r":25,"x":13,"c":3.3,"s":139,"f":1},{"g":"F","r":25,"x":14,"c":3,"s":119,"f":1},{"g":"F","r":25,"x":15,"c":3.2,"s":119,"f":1},{"g":"F","r":25,"x":16,"c":1.8,"s":71,"f":1},{"g":"F","r":25,"x":17,"c":3.2,"s":119,"f":1},{"g":"F","r":25,"x":18,"c":2.8,"s":110,"f":1},{"g":"F","r":25,"x":19,"c":5.7,"s":663,"f":1},{"g":"F","r":25,"x":20,"c":2.9,"s":110,"f":1},{"g":"F","r":25,"x":21,"c":3.1,"s":128,"f":1},{"g":"F","r":25,"x":22,"c":3.3,"s":139,"f":1},{"g":"F","r":25,"x":23,"c":2.8,"s":102,"f":1},{"g":"F","r":25,"x":24,"c":3.2,"s":128,"f":1},{"g":"F","r":25,"x":25,"c":3.3,"s":139,"f":1},{"g":"F","r":25,"x":26,"c":3.4,"s":139,"f":1},{"g":"F","r":25,"x":27,"c":3.2,"s":128,"f":1},{"g":"F","r":25,"x":28,"c":1.8,"s":67,"f":1},{"g":"F","r":25,"x":29,"c":3,"s":110,"f":1},{"g":"F","r":25,"x":30,"c":3.4,"s":139,"f":1},{"g":"F","r":25,"x":31,"c":3.2,"s":128,"f":1},{"g":"F","r":25,"x":32,"c":2.9,"s":110,"f":1},{"g":"F","r":25,"x":33,"c":2.9,"s":110,"f":1},{"g":"F","r":25,"x":34,"c":3.5,"s":128,"f":1},{"g":"F","r":25,"x":35,"c":3.5,"s":128,"f":1},
{"g":"F","r":26,"x":0,"c":4,"s":64,"f":0},{"g":"F","r":26,"x":1,"c":4,"s":64,"f":0},{"g":"F","r":26,"x":2,"c":2,"s":64,"f":0},{"g":"F","r":26,"x":3,"c":2,"s":59,"f":0},{"g":"F","r":26,"x":4,"c":4,"s":71,"f":0},{"g":"F","r":26,"x":5,"c":4,"s":71,"f":0},{"g":"F","r":26,"x":6,"c":2,"s":59,"f":0},{"g":"F","r":26,"x":7,"c":4,"s":71,"f":0},{"g":"F","r":26,"x":8,"c":4,"s":64,"f":0},{"g":"F","r":26,"x":9,"c":2,"s":59,"f":0},{"g":"F","r":26,"x":10,"c":2,"s":64,"f":0},{"g":"F","r":26,"x":11,"c":2,"s":64,"f":0},{"g":"F","r":26,"x":12,"c":2,"s":59,"f":0},{"g":"F","r":26,"x":13,"c":4,"s":71,"f":0},{"g":"F","r":26,"x":14,"c":4,"s":71,"f":0},{"g":"F","r":26,"x":15,"c":2,"s":64,"f":0},{"g":"F","r":26,"x":16,"c":2,"s":59,"f":0},{"g":"F","r":26,"x":17,"c":2,"s":59,"f":0},{"g":"F","r":26,"x":18,"c":4,"s":59,"f":0},{"g":"F","r":26,"x":19,"c":4,"s":64,"f":0},{"g":"F","r":26,"x":20,"c":4,"s":64,"f":0},{"g":"F","r":26,"x":21,"c":4,"s":71,"f":0},{"g":"F","r":26,"x":22,"c":4,"s":64,"f":0},{"g":"F","r":26,"x":23,"c":4,"s":79,"f":0},{"g":"F","r":26,"x":24,"c":4,"s":64,"f":0},{"g":"F","r":26,"x":25,"c":4,"s":64,"f":0},{"g":"F","r":26,"x":26,"c":4,"s":64,"f":0},{"g":"F","r":26,"x":27,"c":4,"s":59,"f":0},{"g":"F","r":26,"x":28,"c":2,"s":59,"f":0},{"g":"F","r":26,"x":29,"c":4,"s":64,"f":0},{"g":"F","r":26,"x":30,"c":4,"s":71,"f":0},{"g":"F","r":26,"x":31,"c":4,"s":64,"f":0},{"g":"F","r":26,"x":32,"c":4,"s":64,"f":0},{"g":"F","r":26,"x":33,"c":4,"s":64,"f":0},{"g":"F","r":26,"x":34,"c":4,"s":64,"f":0},{"g":"F","r":26,"x":35,"c":4,"s":79,"f":0},
{"g":"F","r":27,"x":0,"c":4,"s":71,"f":0},{"g":"F","r":27,"x":1,"c":4,"s":71,"f":0},{"g":"F","r":27,"x":2,"c":2,"s":64,"f":0},{"g":"F","r":27,"x":3,"c":4,"s":64,"f":0},{"g":"F","r":27,"x":4,"c":4,"s":71,"f":0},{"g":"F","r":27,"x":5,"c":6,"s":89,"f":0},{"g":"F","r":27,"x":6,"c":4,"s":71,"f":0},{"g":"F","r":27,"x":7,"c":4,"s":71,"f":0},{"g":"F","r":27,"x":8,"c":4,"s":64,"f":0},{"g":"F","r":27,"x":9,"c":4,"s":71,"f":0},{"g":"F","r":27,"x":10,"c":4,"s":64,"f":0},{"g":"F","r":27,"x":11,"c":4,"s":71,"f":0},{"g":"F","r":27,"x":12,"c":2,"s":64,"f":0},{"g":"F","r":27,"x":13,"c":4,"s":71,"f":0},{"g":"F","r":27,"x":14,"c":6,"s":89,"f":0},{"g":"F","r":27,"x":15,"c":6,"s":89,"f":0},{"g":"F","r":27,"x":16,"c":4,"s":71,"f":0},{"g":"F","r":27,"x":17,"c":4,"s":64,"f":0},{"g":"F","r":27,"x":18,"c":4,"s":64,"f":0},{"g":"F","r":27,"x":19,"c":4,"s":64,"f":0},{"g":"F","r":27,"x":20,"c":4,"s":71,"f":0},{"g":"F","r":27,"x":21,"c":6,"s":89,"f":0},{"g":"F","r":27,"x":22,"c":4,"s":71,"f":0},{"g":"F","r":27,"x":23,"c":4,"s":64,"f":0},{"g":"F","r":27,"x":24,"c":4,"s":64,"f":0},{"g":"F","r":27,"x":25,"c":4,"s":64,"f":0},{"g":"F","r":27,"x":26,"c":4,"s":71,"f":0},{"g":"F","r":27,"x":27,"c":4,"s":64,"f":0},{"g":"F","r":27,"x":28,"c":4,"s":64,"f":0},{"g":"F","r":27,"x":29,"c":4,"s":71,"f":0},{"g":"F","r":27,"x":30,"c":6,"s":89,"f":0},{"g":"F","r":27,"x":31,"c":4,"s":79,"f":0},{"g":"F","r":27,"x":32,"c":4,"s":71,"f":0},{"g":"F","r":27,"x":33,"c":4,"s":71,"f":0},{"g":"F","r":27,"x":34,"c":4,"s":64,"f":0},{"g":"F","r":27,"x":35,"c":4,"s":71,"f":0},
{"g":"F","r":28,"x":0,"c":2,"s":89,"f":1},{"g":"F","r":28,"x":1,"c":3.2,"s":198,"f":1},{"g":"F","r":28,"x":2,"c":2.2,"s":89,"f":1},{"g":"F","r":28,"x":3,"c":2.3,"s":102,"f":1},{"g":"F","r":28,"x":4,"c":1.7,"s":71,"f":1},{"g":"F","r":28,"x":5,"c":2.3,"s":102,"f":1},{"g":"F","r":28,"x":6,"c":1.8,"s":71,"f":1},{"g":"F","r":28,"x":7,"c":1.9,"s":75,"f":1},{"g":"F","r":28,"x":8,"c":1.7,"s":67,"f":1},{"g":"F","r":28,"x":9,"c":2.1,"s":89,"f":1},{"g":"F","r":28,"x":10,"c":2.1,"s":89,"f":1},{"g":"F","r":28,"x":11,"c":1.9,"s":75,"f":1},{"g":"F","r":28,"x":12,"c":2.6,"s":110,"f":1},{"g":"F","r":28,"x":13,"c":1.9,"s":84,"f":1},{"g":"F","r":28,"x":14,"c":2.2,"s":102,"f":1},{"g":"F","r":28,"x":15,"c":1.9,"s":75,"f":1},{"g":"F","r":28,"x":16,"c":1.8,"s":75,"f":1},{"g":"F","r":28,"x":17,"c":1.7,"s":71,"f":1},{"g":"F","r":28,"x":18,"c":1.9,"s":84,"f":1},{"g":"F","r":28,"x":19,"c":2.1,"s":89,"f":1},{"g":"F","r":28,"x":20,"c":1.9,"s":75,"f":1},{"g":"F","r":28,"x":21,"c":2,"s":84,"f":1},{"g":"F","r":28,"x":22,"c":2.2,"s":95,"f":1},{"g":"F","r":28,"x":23,"c":2,"s":84,"f":1},{"g":"F","r":28,"x":24,"c":2.2,"s":95,"f":1},{"g":"F","r":28,"x":25,"c":2.4,"s":110,"f":1},{"g":"F","r":28,"x":26,"c":2,"s":79,"f":1},{"g":"F","r":28,"x":27,"c":1.5,"s":64,"f":1},{"g":"F","r":28,"x":28,"c":1.6,"s":67,"f":1},{"g":"F","r":28,"x":29,"c":1.3,"s":56,"f":1},{"g":"F","r":28,"x":30,"c":2,"s":79,"f":1},{"g":"F","r":28,"x":31,"c":1.8,"s":75,"f":1},{"g":"F","r":28,"x":32,"c":1.8,"s":71,"f":1},{"g":"F","r":28,"x":33,"c":2,"s":84,"f":1},{"g":"F","r":28,"x":34,"c":2.3,"s":102,"f":1},{"g":"F","r":28,"x":35,"c":2.2,"s":110,"f":1},
{"g":"F","r":29,"x":0,"c":2,"s":164,"f":0},{"g":"F","r":29,"x":1,"c":2,"s":164,"f":0},{"g":"F","r":29,"x":2,"c":2,"s":119,"f":0},{"g":"F","r":29,"x":3,"c":2,"s":119,"f":0},{"g":"F","r":29,"x":4,"c":2,"s":102,"f":0},{"g":"F","r":29,"x":5,"c":2,"s":119,"f":0},{"g":"F","r":29,"x":6,"c":2,"s":89,"f":0},{"g":"F","r":29,"x":7,"c":2,"s":89,"f":0},{"g":"F","r":29,"x":8,"c":2,"s":79,"f":0},{"g":"F","r":29,"x":9,"c":2,"s":102,"f":0},{"g":"F","r":29,"x":10,"c":2,"s":119,"f":0},{"g":"F","r":29,"x":11,"c":2,"s":89,"f":0},{"g":"F","r":29,"x":12,"c":2,"s":119,"f":0},{"g":"F","r":29,"x":13,"c":2,"s":89,"f":0},{"g":"F","r":29,"x":14,"c":2,"s":102,"f":0},{"g":"F","r":29,"x":15,"c":2,"s":89,"f":0},{"g":"F","r":29,"x":16,"c":2,"s":89,"f":0},{"g":"F","r":29,"x":17,"c":2,"s":79,"f":0},{"g":"F","r":29,"x":18,"c":2,"s":79,"f":0},{"g":"F","r":29,"x":19,"c":2,"s":79,"f":0},{"g":"F","r":29,"x":20,"c":2,"s":89,"f":0},{"g":"F","r":29,"x":21,"c":2,"s":102,"f":0},{"g":"F","r":29,"x":22,"c":2,"s":89,"f":0},{"g":"F","r":29,"x":23,"c":2,"s":89,"f":0},{"g":"F","r":29,"x":24,"c":2,"s":89,"f":0},{"g":"F","r":29,"x":25,"c":2,"s":89,"f":0},{"g":"F","r":29,"x":26,"c":2,"s":89,"f":0},{"g":"F","r":29,"x":27,"c":2,"s":89,"f":0},{"g":"F","r":29,"x":28,"c":2,"s":79,"f":0},{"g":"F","r":29,"x":29,"c":2,"s":71,"f":0},{"g":"F","r":29,"x":30,"c":2,"s":89,"f":0},{"g":"F","r":29,"x":31,"c":2,"s":89,"f":0},{"g":"F","r":29,"x":32,"c":2,"s":89,"f":0},{"g":"F","r":29,"x":33,"c":2,"s":89,"f":0},{"g":"F","r":29,"x":34,"c":2,"s":89,"f":0},{"g":"F","r":29,"x":35,"c":2,"s":89,"f":0},
{"g":"F","r":30,"x":0,"c":2,"s":71,"f":0},{"g":"F","r":30,"x":1,"c":2,"s":71,"f":0},{"g":"F","r":30,"x":2,"c":2,"s":64,"f":0},{"g":"F","r":30,"x":3,"c":2,"s":89,"f":0},{"g":"F","r":30,"x":4,"c":2,"s":79,"f":0},{"g":"F","r":30,"x":5,"c":2,"s":79,"f":0},{"g":"F","r":30,"x":6,"c":4,"s":89,"f":0},{"g":"F","r":30,"x":7,"c":2,"s":79,"f":0},{"g":"F","r":30,"x":8,"c":2,"s":79,"f":0},{"g":"F","r":30,"x":9,"c":2,"s":79,"f":0},{"g":"F","r":30,"x":10,"c":2,"s":89,"f":0},{"g":"F","r":30,"x":11,"c":2,"s":71,"f":0},{"g":"F","r":30,"x":12,"c":2,"s":79,"f":0},{"g":"F","r":30,"x":13,"c":2,"s":79,"f":0},{"g":"F","r":30,"x":14,"c":2,"s":89,"f":0},{"g":"F","r":30,"x":15,"c":2,"s":89,"f":0},{"g":"F","r":30,"x":16,"c":2,"s":79,"f":0},{"g":"F","r":30,"x":17,"c":2,"s":71,"f":0},{"g":"F","r":30,"x":18,"c":4,"s":102,"f":0},{"g":"F","r":30,"x":19,"c":2,"s":71,"f":0},{"g":"F","r":30,"x":20,"c":2,"s":89,"f":0},{"g":"F","r":30,"x":21,"c":2,"s":71,"f":0},{"g":"F","r":30,"x":22,"c":2,"s":79,"f":0},{"g":"F","r":30,"x":23,"c":2,"s":71,"f":0},{"g":"F","r":30,"x":24,"c":2,"s":71,"f":0},{"g":"F","r":30,"x":25,"c":2,"s":79,"f":0},{"g":"F","r":30,"x":26,"c":2,"s":79,"f":0},{"g":"F","r":30,"x":27,"c":4,"s":89,"f":0},{"g":"F","r":30,"x":28,"c":4,"s":89,"f":0},{"g":"F","r":30,"x":29,"c":4,"s":89,"f":0},{"g":"F","r":30,"x":30,"c":2,"s":79,"f":0},{"g":"F","r":30,"x":31,"c":4,"s":79,"f":0},{"g":"F","r":30,"x":32,"c":4,"s":89,"f":0},{"g":"F","r":30,"x":33,"c":4,"s":89,"f":0},{"g":"F","r":30,"x":34,"c":2,"s":71,"f":0},{"g":"F","r":30,"x":35,"c":2,"s":71,"f":0},
{"g":"F","r":31,"x":0,"c":2,"s":64,"f":0},{"g":"F","r":31,"x":1,"c":2,"s":64,"f":0},{"g":"F","r":31,"x":2,"c":4,"s":71,"f":0},{"g":"F","r":31,"x":3,"c":4,"s":71,"f":0},{"g":"F","r":31,"x":4,"c":2,"s":64,"f":0},{"g":"F","r":31,"x":5,"c":2,"s":64,"f":0},{"g":"F","r":31,"x":6,"c":2,"s":64,"f":0},{"g":"F","r":31,"x":7,"c":2,"s":64,"f":0},{"g":"F","r":31,"x":8,"c":4,"s":71,"f":0},{"g":"F","r":31,"x":9,"c":2,"s":64,"f":0},{"g":"F","r":31,"x":10,"c":4,"s":71,"f":0},{"g":"F","r":31,"x":11,"c":2,"s":64,"f":0},{"g":"F","r":31,"x":12,"c":2,"s":64,"f":0},{"g":"F","r":31,"x":13,"c":2,"s":64,"f":0},{"g":"F","r":31,"x":14,"c":2,"s":64,"f":0},{"g":"F","r":31,"x":15,"c":2,"s":64,"f":0},{"g":"F","r":31,"x":16,"c":2,"s":64,"f":0},{"g":"F","r":31,"x":17,"c":2,"s":64,"f":0},{"g":"F","r":31,"x":18,"c":4,"s":71,"f":0},{"g":"F","r":31,"x":19,"c":2,"s":64,"f":0},{"g":"F","r":31,"x":20,"c":4,"s":71,"f":0},{"g":"F","r":31,"x":21,"c":2,"s":64,"f":0},{"g":"F","r":31,"x":22,"c":2,"s":64,"f":0},{"g":"F","r":31,"x":23,"c":2,"s":64,"f":0},{"g":"F","r":31,"x":24,"c":2,"s":64,"f":0},{"g":"F","r":31,"x":25,"c":2,"s":64,"f":0},{"g":"F","r":31,"x":26,"c":2,"s":64,"f":0},{"g":"F","r":31,"x":27,"c":6,"s":79,"f":0},{"g":"F","r":31,"x":28,"c":6,"s":89,"f":0},{"g":"F","r":31,"x":29,"c":4,"s":71,"f":0},{"g":"F","r":31,"x":30,"c":2,"s":64,"f":0},{"g":"F","r":31,"x":31,"c":4,"s":71,"f":0},{"g":"F","r":31,"x":32,"c":2,"s":64,"f":0},{"g":"F","r":31,"x":33,"c":2,"s":64,"f":0},{"g":"F","r":31,"x":34,"c":2,"s":64,"f":0},{"g":"F","r":31,"x":35,"c":2,"s":54,"f":0},
{"g":"F","r":32,"x":0,"c":3.5,"s":295,"f":0},{"g":"F","r":32,"x":1,"c":3.5,"s":198,"f":0},{"g":"F","r":32,"x":2,"c":3.5,"s":295,"f":0},{"g":"F","r":32,"x":3,"c":3.5,"s":240,"f":0},{"g":"F","r":32,"x":4,"c":3.5,"s":295,"f":0},{"g":"F","r":32,"x":5,"c":3.5,"s":295,"f":0},{"g":"F","r":32,"x":6,"c":3.5,"s":240,"f":0},{"g":"F","r":32,"x":7,"c":3.5,"s":198,"f":0},{"g":"F","r":32,"x":8,"c":3.5,"s":240,"f":0},{"g":"F","r":32,"x":9,"c":3.5,"s":366,"f":0},{"g":"F","r":32,"x":10,"c":3.5,"s":295,"f":0},{"g":"F","r":32,"x":11,"c":3.5,"s":240,"f":0},{"g":"F","r":32,"x":12,"c":3.5,"s":366,"f":0},{"g":"F","r":32,"x":13,"c":3.5,"s":295,"f":0},{"g":"F","r":32,"x":14,"c":3.5,"s":198,"f":0},{"g":"F","r":32,"x":15,"c":3.5,"s":198,"f":0},{"g":"F","r":32,"x":16,"c":3.5,"s":198,"f":0},{"g":"F","r":32,"x":17,"c":3.5,"s":240,"f":0},{"g":"F","r":32,"x":18,"c":3.5,"s":164,"f":0},{"g":"F","r":32,"x":19,"c":3.5,"s":198,"f":0},{"g":"F","r":32,"x":20,"c":3.5,"s":240,"f":0},{"g":"F","r":32,"x":21,"c":3.5,"s":240,"f":0},{"g":"F","r":32,"x":22,"c":3.5,"s":240,"f":0},{"g":"F","r":32,"x":23,"c":3.5,"s":198,"f":0},{"g":"F","r":32,"x":24,"c":3.5,"s":295,"f":0},{"g":"F","r":32,"x":25,"c":3.5,"s":295,"f":0},{"g":"F","r":32,"x":26,"c":3.5,"s":198,"f":0},{"g":"F","r":32,"x":27,"c":3.5,"s":139,"f":0},{"g":"F","r":32,"x":28,"c":3.5,"s":164,"f":0},{"g":"F","r":32,"x":29,"c":5,"s":586,"f":0},{"g":"F","r":32,"x":30,"c":3.5,"s":164,"f":0},{"g":"F","r":32,"x":31,"c":3.5,"s":164,"f":0},{"g":"F","r":32,"x":32,"c":3.5,"s":295,"f":0},{"g":"F","r":32,"x":33,"c":3.5,"s":295,"f":0},{"g":"F","r":32,"x":34,"c":3.5,"s":295,"f":0},{"g":"F","r":32,"x":35,"c":3.5,"s":295,"f":0},
{"g":"F","r":33,"x":0,"c":4,"s":102,"f":0},{"g":"F","r":33,"x":1,"c":4,"s":102,"f":0},{"g":"F","r":33,"x":2,"c":2,"s":102,"f":0},{"g":"F","r":33,"x":3,"c":2,"s":89,"f":0},{"g":"F","r":33,"x":4,"c":4,"s":119,"f":0},{"g":"F","r":33,"x":5,"c":4,"s":102,"f":0},{"g":"F","r":33,"x":6,"c":2,"s":89,"f":0},{"g":"F","r":33,"x":7,"c":2,"s":79,"f":0},{"g":"F","r":33,"x":8,"c":2,"s":79,"f":0},{"g":"F","r":33,"x":9,"c":4,"s":139,"f":0},{"g":"F","r":33,"x":10,"c":4,"s":102,"f":0},{"g":"F","r":33,"x":11,"c":2,"s":89,"f":0},{"g":"F","r":33,"x":12,"c":4,"s":139,"f":0},{"g":"F","r":33,"x":13,"c":4,"s":139,"f":0},{"g":"F","r":33,"x":14,"c":2,"s":89,"f":0},{"g":"F","r":33,"x":15,"c":2,"s":89,"f":0},{"g":"F","r":33,"x":16,"c":2,"s":89,"f":0},{"g":"F","r":33,"x":17,"c":2,"s":102,"f":0},{"g":"F","r":33,"x":18,"c":2,"s":89,"f":0},{"g":"F","r":33,"x":19,"c":2,"s":79,"f":0},{"g":"F","r":33,"x":20,"c":2,"s":79,"f":0},{"g":"F","r":33,"x":21,"c":2,"s":89,"f":0},{"g":"F","r":33,"x":22,"c":2,"s":79,"f":0},{"g":"F","r":33,"x":23,"c":2,"s":79,"f":0},{"g":"F","r":33,"x":24,"c":2,"s":89,"f":0},{"g":"F","r":33,"x":25,"c":2,"s":89,"f":0},{"g":"F","r":33,"x":26,"c":2,"s":89,"f":0},{"g":"F","r":33,"x":27,"c":2,"s":89,"f":0},{"g":"F","r":33,"x":28,"c":2,"s":89,"f":0},{"g":"F","r":33,"x":29,"c":2,"s":89,"f":0},{"g":"F","r":33,"x":30,"c":2,"s":89,"f":0},{"g":"F","r":33,"x":31,"c":2,"s":89,"f":0},{"g":"F","r":33,"x":32,"c":2,"s":89,"f":0},{"g":"F","r":33,"x":33,"c":2,"s":89,"f":0},{"g":"F","r":33,"x":34,"c":2,"s":89,"f":0},{"g":"F","r":33,"x":35,"c":2,"s":89,"f":0}
]},
"facet": {"row": {"field": "g", "type": "nominal", "sort": ["A", "F"], "header": {"title": null, "labelOrient": "right", "labelAngle": 90, "labelFontSize": 28, "labelFontWeight": "bold", "labelFont": "Liberation Sans", "labelColor": "#1a1a1a", "labelPadding": 8, "labelExpr": "datum.value == 'A' ? 'Adult' : 'Fetal'"}}},
"spacing": 9,
"resolve": {"scale": {"y": "independent"}},
"spec": {
  "width": 1122,
  "height": 394,
  "mark": {"type": "circle", "opacity": 1},
  "encoding": {
    "x": {"field": "x", "type": "ordinal", "scale": {"type": "point", "padding": 0.5},
      "axis": {"title": "TF motif orientation and spacing", "labelExpr": "['XY0','XY1','XY2','XY3','XY4','XY5','XY6','XY7','XY8','xY0','xY1','xY2','xY3','xY4','xY5','xY6','xY7','xY8','Yx0','Yx1','Yx2','Yx3','Yx4','Yx5','Yx6','Yx7','Yx8','YX0','YX1','YX2','YX3','YX4','YX5','YX6','YX7','YX8'][datum.value]", "labelAngle": 0, "labelFontSize": 14, "labelColor": "#1a1a1a", "labelPadding": 3, "labelOverlap": false, "tickSize": 4, "tickColor": "#333333", "domain": false, "grid": true, "gridColor": "#EBEBEB", "gridWidth": 2.5, "titleFontSize": 28.5, "titleFontWeight": "bold", "titleColor": "black", "titleX": 584, "titleY": 57, "titleBaseline": "alphabetic", "titleAlign": "center"}},
    "y": {"field": "r", "type": "ordinal", "scale": {"type": "point", "padding": 0.5},
      "axis": {"title": null, "labelExpr": "['ST_Srf_Tbx5','NT_Nkx2−5_Tbx5','GT_Gata4_Tbx5','TE_Tbx5_Tead1','AT_Mef2a_Tbx5','GS_Gata4_Srf','NS_Nkx2-5_Srf','GN_Gata4_Nkx2-5','SE_Srf_Tead1','NE_Nkx2-5_Tead1','GE_Gata4_Tead1','AS_Mef2a_Srf','AN_Mef2a_Nkx2-5','GA_Gata4_Mef2a','AE_Mef2a_Tead1','ST_Srf_Tbx5','NT_Nkx2-5_Tbx5','GT_Gata4_Tead1','TE_Tbx5_Tead1','CT_Mef2c_Tbx5','AT_Mef2a_Tbx5','GS_Gata4_Srf','NS_Nkx2-5_Srf','GN_Gata4_Nkx2-5','SE_Srf_Tead1','NE_Nkx2-5_Tead1','CS_Mef2c_Srf','AS_Mef2a_Srf','CN_Mef2c_Nkx2-5','AN_Mef2a_Nkx2-5','GC_Gata4_Mef2c','GA_Gata4_Mef2a','CE_Mef2c_Tead1','AE_Mef2a_Tead1'][datum.value]", "labelFontSize": 17.5, "labelColor": "#1a1a1a", "labelPadding": 4, "labelOverlap": false, "tickSize": 5, "tickColor": "#333333", "domain": false, "grid": true, "gridColor": "#EBEBEB", "gridWidth": 2.5, "minExtent": 160, "maxExtent": 160}},
    "color": {"field": "c", "type": "quantitative", "scale": {"domain": [1, 9.8], "range": ["#BEBEBE", "#FF0000"], "interpolate": "lab", "clamp": true},
      "legend": {"orient": "none", "legendX": 1175, "legendY": 236, "direction": "vertical", "title": "%\u00a0 with motif", "values": [2.5, 5, 7.5], "format": ".1f", "gradientLength": 108, "gradientThickness": 23, "gradientStrokeWidth": 0, "titlePadding": 7, "labelOffset": 6}},
    "size": {"field": "s", "type": "quantitative", "scale": {"type": "log", "domain": [50, 1000], "range": [26, 622], "clamp": true},
      "legend": {"orient": "none", "legendX": 1165, "legendY": 483, "title": "-log10(Pvalue)", "values": [100, 200, 500], "symbolType": "circle", "symbolFillColor": "black", "symbolStrokeWidth": 0, "symbolOpacity": 1, "symbolOffset": 22, "labelOffset": 9, "rowPadding": 5.5, "titlePadding": 9}},
    "opacity": {"field": "f", "type": "ordinal", "scale": {"domain": [0, 1], "range": [0.33, 1]},
      "legend": {"orient": "none", "legendX": 1165, "legendY": 392, "title": "fano factor", "labelExpr": "datum.value == 0 ? '≤15' : '>15'", "symbolType": "circle", "symbolSize": 25, "symbolFillColor": "black", "symbolStrokeWidth": 0, "symbolOffset": 25, "labelOffset": 7, "rowPadding": 8, "titlePadding": 8}}
  }
},
"config": {
  "font": "Liberation Sans",
  "view": {"stroke": "#333333", "strokeWidth": 1.3},
  "axis": {"labelFont": "Liberation Sans", "titleFont": "Liberation Sans"},
  "legend": {"titleFontSize": 17, "titleFontWeight": "normal", "titleColor": "black", "labelFontSize": 15, "labelColor": "black", "titleFont": "Liberation Sans", "labelFont": "Liberation Sans", "padding": 0}
}
}
